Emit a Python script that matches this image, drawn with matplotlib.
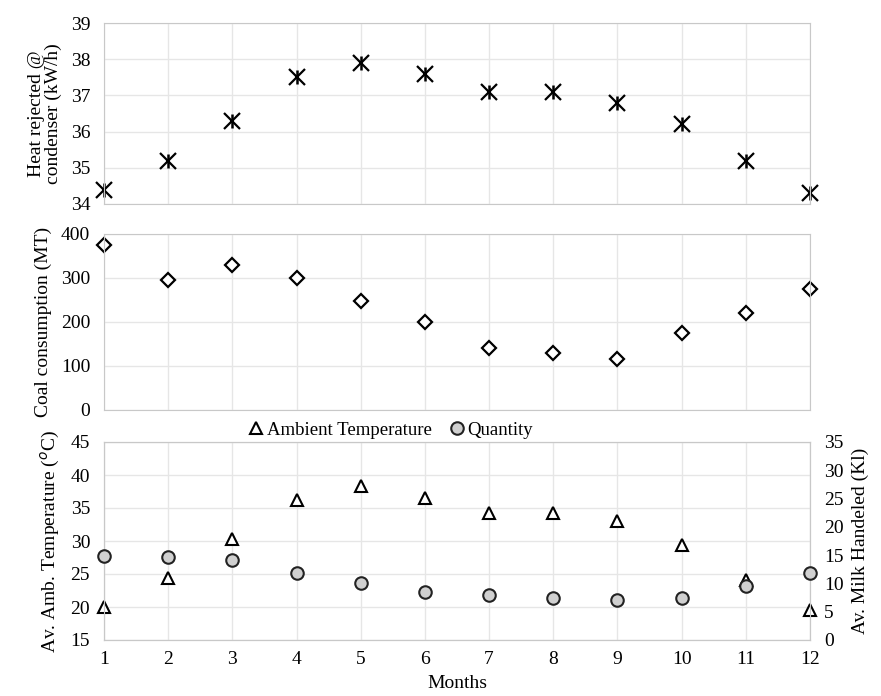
import matplotlib.pyplot as plt
import numpy as np

plt.rcParams.update({
    "font.family": "Liberation Serif",
    "font.size": 13,
})

# ─── DATA ────────────────────────────────────────────────────────────────
months = np.arange(1, 13)
heat_rejected = [34.4, 35.2, 36.3, 37.5, 37.9, 37.6, 37.1, 37.1, 36.8, 36.2, 35.2, 34.3]
coal_mt = [375, 295, 330, 300, 248, 200, 140, 130, 115, 175, 220, 275]
amb_temp = [20.0, 24.4, 30.3, 36.2, 38.3, 36.5, 34.3, 34.2, 33.0, 29.4, 24.1, 19.6]
milk_kl = [14.9, 14.6, 14.1, 11.9, 10.0, 8.5, 8.0, 7.5, 7.1, 7.5, 9.6, 11.9]

GRID = "#e6e6e6"
SPINE = "#c8c8c8"
TICK_FS = 14
LABEL_FS = 14

fig = plt.figure(figsize=(8.81, 6.96), dpi=100)
L, W = 104 / 881, 706 / 881

def frac(top, bottom):
    return [L, 1 - bottom / 696, W, (bottom - top) / 696]

ax1 = fig.add_axes(frac(23, 204))
ax2 = fig.add_axes(frac(234, 410))
ax3 = fig.add_axes(frac(442, 640))

def style(ax):
    ax.set_xlim(1, 12)
    ax.set_xticks(months)
    ax.grid(True, color=GRID, lw=1)
    ax.set_axisbelow(True)
    for s in ax.spines.values():
        s.set_color(SPINE)
    ax.tick_params(length=0, pad=10, labelsize=TICK_FS)
    ax.tick_params(axis="x", pad=8)

# heat rejected (Excel-style star: X plus vertical bar)
style(ax1)
ax1.plot(months, heat_rejected, ls="", marker="x", ms=11, mew=1.6, color="black", clip_on=False)
ax1.plot(months, heat_rejected, ls="", marker="|", ms=10, mew=1.8, color="black", clip_on=False)
ax1.set_ylim(34, 39)
ax1.set_yticks(range(34, 40))
ax1.tick_params(labelbottom=False)
ax1.set_ylabel("Heat rejected @\ncondenser (kW/h)", fontsize=LABEL_FS, labelpad=6, linespacing=1.0)

# coal consumption
style(ax2)
ax2.plot(months, coal_mt, ls="", marker="D", ms=7, mfc="white", mec="black", mew=1.6, clip_on=False)
ax2.set_ylim(0, 400)
ax2.set_yticks(range(0, 401, 100))
ax2.tick_params(labelbottom=False)
ax2.set_ylabel("Coal consumption (MT)", fontsize=LABEL_FS, labelpad=6)

# temperature & milk
style(ax3)
h1, = ax3.plot(months, amb_temp, ls="", marker="^", ms=8, mfc="white", mec="black", mew=1.5,
               clip_on=False, label="Ambient Temperature", zorder=3)
ax3.set_ylim(15, 45)
ax3.set_yticks(range(15, 46, 5))
ax3.set_ylabel("Av. Amb. Temperature ($^{o}$C)", fontsize=LABEL_FS, labelpad=6)
ax3.set_xlabel("Months", fontsize=LABEL_FS, labelpad=5)

ax4 = ax3.twinx()
h2, = ax4.plot(months, milk_kl, ls="", marker="o", ms=9, mfc="#d0d0d0", mec="#222222", mew=1.5,
               clip_on=False, label="Quantity", zorder=3)
ax4.set_ylim(0, 35)
ax4.set_yticks(range(0, 36, 5))
for s in ax4.spines.values():
    s.set_color(SPINE)
ax4.tick_params(length=0, pad=10, labelsize=TICK_FS)
ax4.set_ylabel("Av. Milk Handeled (Kl)", fontsize=LABEL_FS, labelpad=6)

fig.legend(handles=[h1, h2], loc="center", bbox_to_anchor=(390 / 881, 1 - 430 / 696), ncol=2,
           frameon=False, fontsize=13.5, handletextpad=0.1, columnspacing=0.8, handlelength=1.0,
           borderpad=0.1)

fig.savefig("out.png", dpi=100)
